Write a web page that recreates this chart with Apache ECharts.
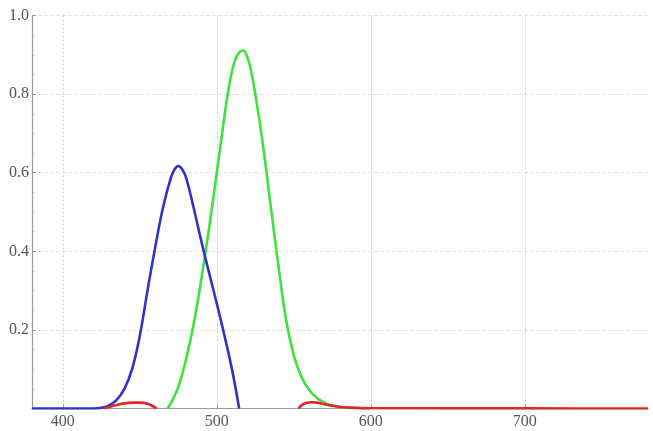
<!DOCTYPE html>
<html>
<head>
<meta charset="utf-8">
<script src="https://cdn.jsdelivr.net/npm/echarts@6/dist/echarts.min.js"></script>
<style>html,body{margin:0;padding:0;background:#fff}#c{width:653px;height:431px}</style>
</head>
<body>
<div id="c"></div>
<script>
var xTickLabels = [400, 500, 600, 700];
var blueX = [380, 400, 420, 425, 430, 435, 440, 445, 450, 455, 460, 465, 470, 472.5, 475, 477.5, 480, 485, 490, 495, 500, 505, 510, 514.5];
var blueY = [0, 0, 0, 0.002, 0.008, 0.022, 0.05, 0.1, 0.185, 0.3, 0.41, 0.51, 0.585, 0.608, 0.617, 0.609, 0.588, 0.51, 0.425, 0.345, 0.267, 0.185, 0.097, 0];
var greenX = [468, 470, 475, 480, 485, 490, 495, 500, 505, 507.5, 510, 512.5, 515, 517, 519, 521.5, 525, 530, 535, 540, 545, 550, 555, 560, 565, 570, 575, 580, 590, 600];
var greenY = [0, 0.012, 0.055, 0.125, 0.215, 0.33, 0.46, 0.6, 0.745, 0.81, 0.86, 0.893, 0.908, 0.911, 0.902, 0.872, 0.8, 0.67, 0.515, 0.365, 0.225, 0.135, 0.08, 0.047, 0.027, 0.015, 0.008, 0.0045, 0.0012, 0];
var redX = [427, 430, 435, 440, 445, 450, 455, 458, 461, 500, 553, 555, 558, 561, 565, 570, 575, 580, 590, 600, 650, 700, 780];
var redY = [0, 0.004, 0.009, 0.013, 0.015, 0.015, 0.012, 0.007, 0, null, 0, 0.008, 0.014, 0.016, 0.015, 0.011, 0.007, 0.004, 0.0015, 0.0008, 0.0004, 0.0002, 0];

function pairs(xs, ys) {
  return xs.map(function (x, i) { return [x, ys[i] === null ? '-' : ys[i]]; });
}

var chart = echarts.init(document.getElementById('c'));
var font = 'Liberation Serif';
chart.setOption({
  animation: false,
  grid: { left: 32, right: 5, top: 15.5, bottom: 22.5, containLabel: false },
  xAxis: {
    type: 'value', min: 380, max: 780,
    axisLine: { show: true, onZero: false, lineStyle: { color: '#9a9a9a', width: 1.2 } },
    axisTick: { show: true, inside: true, length: 4, customValues: xTickLabels, lineStyle: { color: '#9a9a9a' } },
    axisLabel: { customValues: xTickLabels, color: '#555', fontFamily: font, fontSize: 16, margin: 5 },
    splitLine: { show: true, lineStyle: { color: '#cfcfcf', type: [2, 2], width: 1 } }
  },
  yAxis: {
    type: 'value', min: 0, max: 1, interval: 0.2,
    axisLine: { show: true, lineStyle: { color: '#9a9a9a', width: 1.2 } },
    axisTick: { show: true, inside: true, length: 4, lineStyle: { color: '#9a9a9a' } },
    minorTick: { show: true, splitNumber: 4, length: 2, lineStyle: { color: '#aaa' } },
    axisLabel: { showMinLabel: false, color: '#555', fontFamily: font, fontSize: 16, margin: 3,
      formatter: function (v) { return v.toFixed(1); } },
    splitLine: { show: true, lineStyle: { color: '#e2e2e2', type: [4, 2], width: 1.2 } }
  },
  series: [
    { type: 'line', data: pairs(greenX, greenY), smooth: 0.45, showSymbol: false, lineStyle: { color: '#3de23d', width: 2.6 }, z: 2 },
    { type: 'line', data: pairs(blueX, blueY), smooth: 0.45, showSymbol: false, lineStyle: { color: '#3232c8', width: 2.6 }, z: 3 },
    { type: 'line', data: pairs(redX, redY), smooth: 0.3, showSymbol: false, connectNulls: false, lineStyle: { color: '#e02828', width: 2.6 }, z: 4 }
  ]
});
</script>
</body>
</html>
